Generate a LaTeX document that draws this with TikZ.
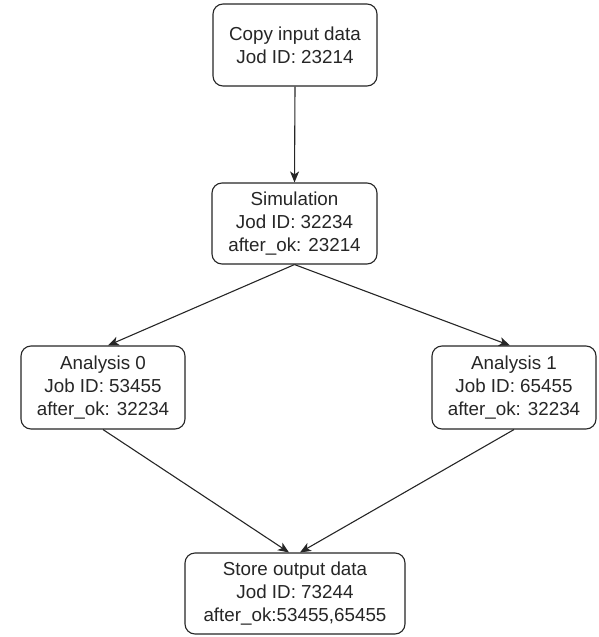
\documentclass[tikz,border=0pt]{standalone}
\usepackage{fontspec}
\setmainfont{Liberation Sans}
\usetikzlibrary{arrows.meta,calc}

\begin{document}
\begin{tikzpicture}[x=1pt,y=-1pt,
  jobbox/.style={draw=black!85, line width=1.1pt, rounded corners=10pt,
    fill=white, align=center, inner sep=0pt, text=black!85,
    font=\fontsize{18.8pt}{23.3pt}\selectfont},
  link/.style={draw=black!85, line width=1.1pt,
    -{Stealth[length=11pt,width=9pt,inset=3pt]}}]
  \useasboundingbox (0,0) rectangle (598,637);

  % jobs
  \node[jobbox, minimum width=164pt, minimum height=82pt] (copy) at (295,45)
    {Copy input data\\Jod ID: 23214};
  \node[jobbox, minimum width=165pt, minimum height=81pt] (sim) at (294.5,223.5)
    {Simulation\\Jod ID: 32234\\after\_ok: 23214};
  \node[jobbox, minimum width=164pt, minimum height=83pt] (an0) at (103,387.5)
    {Analysis 0\\Job ID: 53455\\after\_ok: 32234};
  \node[jobbox, minimum width=164pt, minimum height=83pt] (an1) at (514,387.5)
    {Analysis 1\\Job ID: 65455\\after\_ok: 32234};
  \node[jobbox, minimum width=220pt, minimum height=81pt] (store) at (295,593.5)
    {Store output data\\Jod ID: 73244\\after\_ok:53455,65455};

  % entry points on the store job
  \coordinate (inL) at ($(store.north)+(-6,0)$);
  \coordinate (inR) at ($(store.north)+(5,0)$);

  % dependencies
  \draw[link] (copy.south) -- (sim.north);
  \draw[link] (sim.south) -- ($(an0.north)+(5,0)$);
  \draw[link] (sim.south) -- ($(an1.north)+(-4,0)$);
  \draw[link] (an0.south) -- (inL);
  \draw[link] (an1.south) -- (inR);
\end{tikzpicture}
\end{document}
